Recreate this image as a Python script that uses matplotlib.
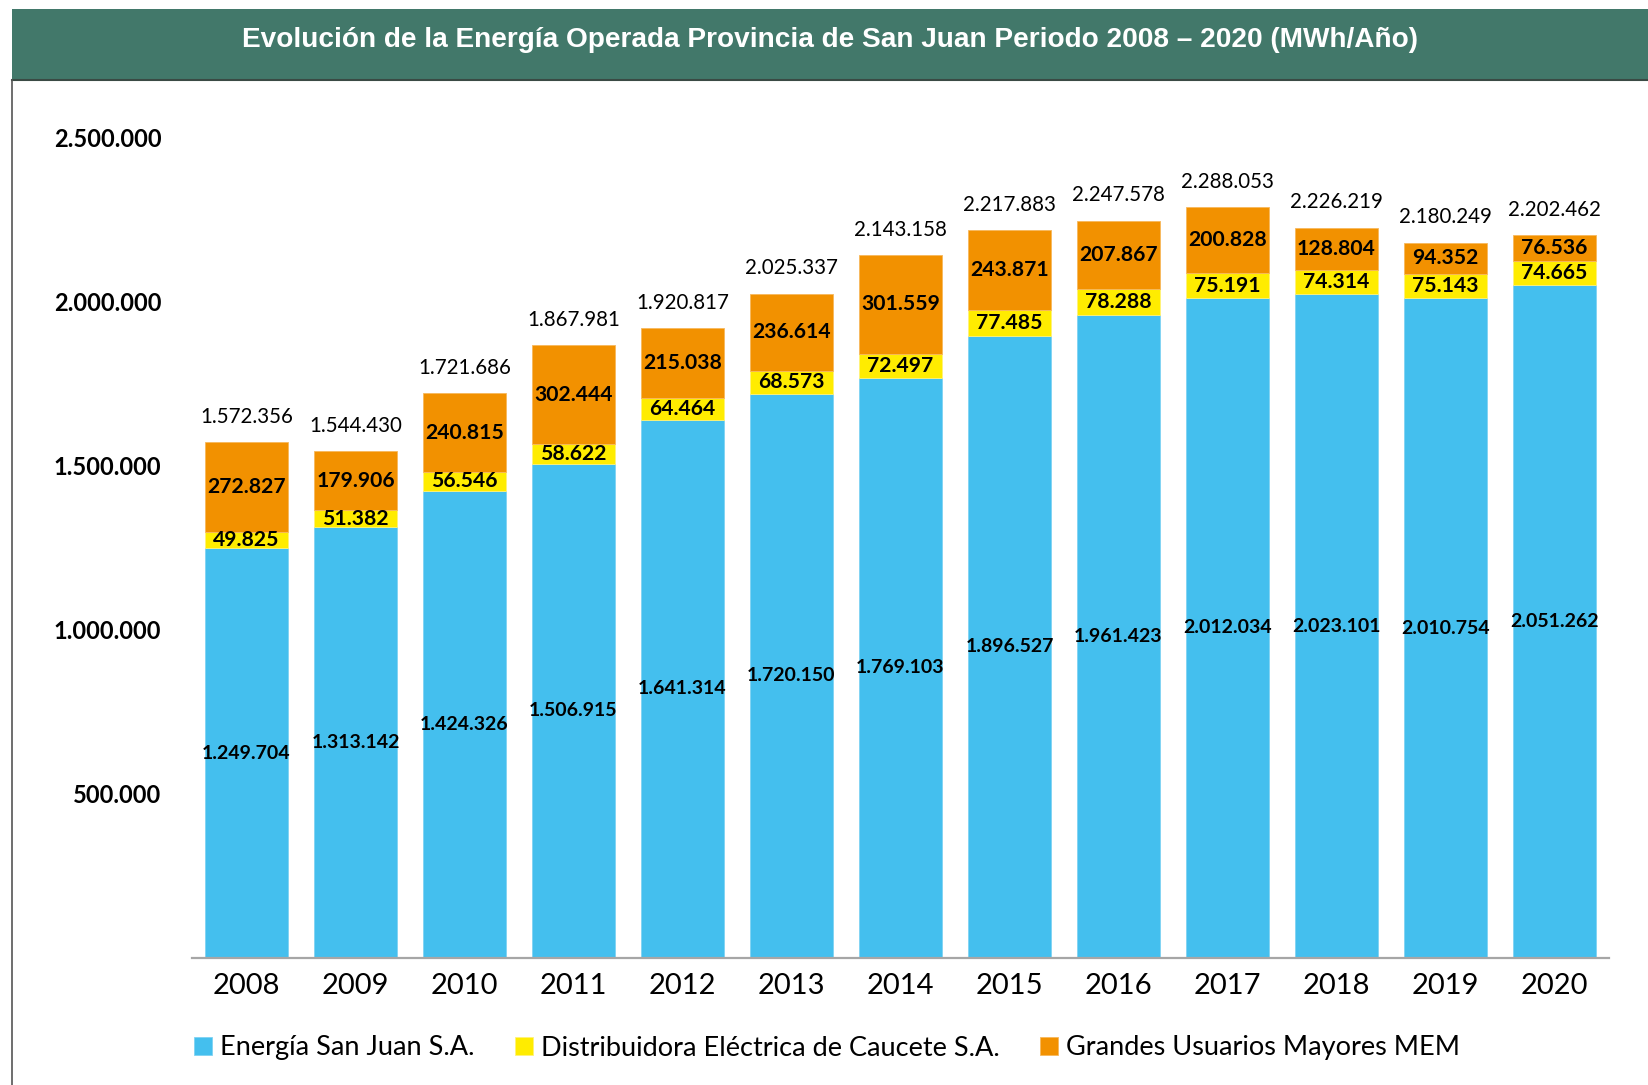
import matplotlib
matplotlib.use("Agg")
import matplotlib.pyplot as plt
from matplotlib.patches import Rectangle
from matplotlib.lines import Line2D
import numpy as np

# Data (MWh/año)
years = ["2008", "2009", "2010", "2011", "2012", "2013", "2014",
         "2015", "2016", "2017", "2018", "2019", "2020"]
energia_sj = [1249704, 1313142, 1424326, 1506915, 1641314, 1720150, 1769103,
              1896527, 1961423, 2012034, 2023101, 2010754, 2051262]
caucete = [49825, 51382, 56546, 58622, 64464, 68573, 72497,
           77485, 78288, 75191, 74314, 75143, 74665]
grandes = [272827, 179906, 240815, 302444, 215038, 236614, 301559,
           243871, 207867, 200828, 128804, 94352, 76536]
totales = [1572356, 1544430, 1721686, 1867981, 1920817, 2025337, 2143158,
           2217883, 2247578, 2288053, 2226219, 2180249, 2202462]
series_names = ["Energía San Juan S.A.", "Distribuidora Eléctrica de Caucete S.A.",
                "Grandes Usuarios Mayores MEM"]
yticks = [500000, 1000000, 1500000, 2000000, 2500000]

c_blue = "#44BFEE"
c_yellow = "#FFEC00"
c_orange = "#F29100"
c_green = "#42786A"

plt.rcParams["font.family"] = ["Lato", "DejaVu Sans"]


def fmt(v):
    return f"{v:,}".replace(",", ".")


W, H = 1649, 1085
fig = plt.figure(figsize=(W / 100, H / 100), dpi=100)

# title bar and frame
fig.patches.append(Rectangle((12 / W, 1 - 79 / H), 1, 70 / H, transform=fig.transFigure,
                             facecolor=c_green, edgecolor="none", zorder=0))
fig.lines.append(Line2D([12 / W, 1], [1 - 79.5 / H] * 2, transform=fig.transFigure,
                        color="#3a4a44", lw=1.5))
fig.lines.append(Line2D([12.5 / W] * 2, [0, 1 - 80 / H], transform=fig.transFigure,
                        color="#555555", lw=1.2))
fig.text((12 + W) / 2 / W, 1 - 40 / H,
         "Evolución de la Energía Operada Provincia de San Juan Periodo 2008 – 2020 (MWh/Año)",
         color="white", fontsize=20.2, fontweight="heavy", family="Liberation Sans",
         ha="center", va="center")

ax = fig.add_axes([192 / W, 127 / H, 1417 / W, 853 / H])
x = np.arange(len(years))
bw = 0.77
b1 = ax.bar(x, energia_sj, bw, color=c_blue, edgecolor="#7fd3f3", lw=0.6, label=series_names[0])
bot2 = np.array(energia_sj)
b2 = ax.bar(x, caucete, bw, bottom=bot2, color=c_yellow, edgecolor="#fff27a", lw=0.6,
            label=series_names[1])
bot3 = bot2 + np.array(caucete)
b3 = ax.bar(x, grandes, bw, bottom=bot3, color=c_orange, edgecolor="#f7b85c", lw=0.6,
            label=series_names[2])

for i in range(len(years)):
    ax.text(x[i], energia_sj[i] / 2, fmt(energia_sj[i]), ha="center", va="center",
            fontsize=14, fontweight="bold")
    ax.text(x[i], bot2[i] + caucete[i] / 2, fmt(caucete[i]), ha="center", va="center",
            fontsize=15.2, fontweight="bold")
    ax.text(x[i], bot3[i] + grandes[i] / 2, fmt(grandes[i]), ha="center", va="center",
            fontsize=15.2, fontweight="bold")
    ax.annotate(fmt(totales[i]), (x[i], bot3[i] + grandes[i]), xytext=(0, 11),
                textcoords="offset points", ha="center", va="bottom", fontsize=14.8)

ax.set_xlim(-0.5, len(years) - 0.5)
ax.set_ylim(0, 2600000)
ax.set_xticks(x)
ax.set_xticklabels(years, fontsize=21)
ax.set_yticks(yticks)
ax.set_yticklabels([fmt(v) for v in yticks], fontsize=17, fontweight="bold")
ax.tick_params(axis="both", length=0)
ax.tick_params(axis="y", pad=22)
ax.tick_params(axis="x", pad=11)
for s in ["left", "top", "right"]:
    ax.spines[s].set_visible(False)
ax.spines["bottom"].set_color("#A6A6A6")
ax.spines["bottom"].set_linewidth(1.6)

fig.legend(handles=[b1, b2, b3], loc="center", bbox_to_anchor=(827 / W, 1 - 1048 / H),
           ncol=3, frameon=False, fontsize=19.5, handlelength=0.65, handleheight=0.65,
           handletextpad=0.3, columnspacing=1.5)

fig.savefig("out.png", dpi=100)
